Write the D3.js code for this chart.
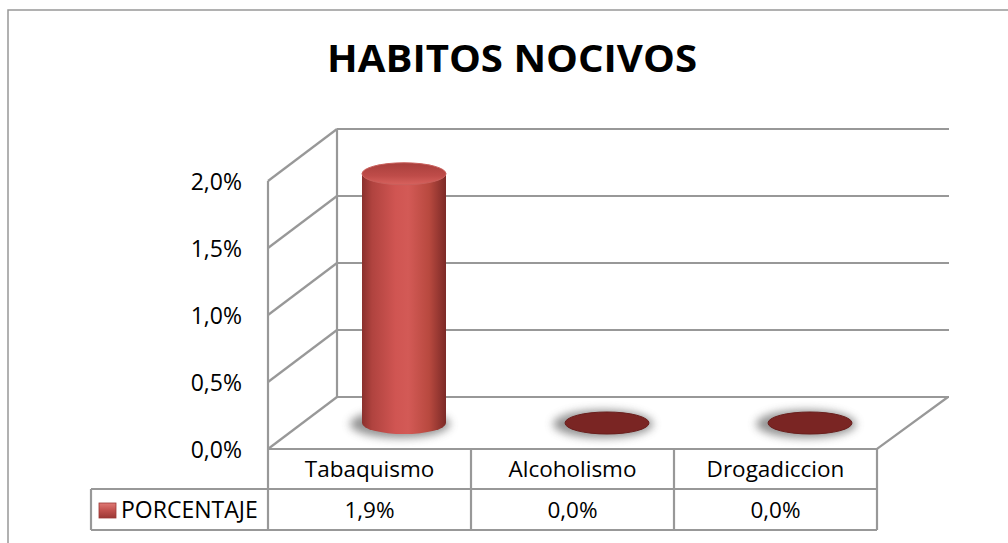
<!DOCTYPE html>
<html>
<head>
<meta charset="utf-8">
<script src="https://cdn.jsdelivr.net/npm/d3@7"></script>
<style>
  body { margin: 0; background: #fff; }
  text { font-family: "Open Sans", "Noto Sans", sans-serif; fill: #000; }
</style>
</head>
<body>
<div id="chart"></div>
<script>
// data
var categories = ['Tabaquismo', 'Alcoholismo', 'Drogadiccion'];
var values = [0.0186, 0, 0];
var yTicks = [0, 0.005, 0.01, 0.015, 0.02];
var seriesName = 'PORCENTAJE';
var chartTitle = 'HABITOS NOCIVOS';

function drawChart() {
    var width = 1008, height = 543;
    var depth = { dx: 69, dy: -52 };     // 3d offset of the back wall
    var lineCol = '#989898';

    var esLocale = d3.formatLocale({ decimal: ',', thousands: '.', grouping: [3], currency: ['', '€'] });
    var pct = esLocale.format('.1%');

    var svg = d3.select('#chart').append('svg')
        .attr('width', width)
        .attr('height', height);

    var defs = svg.append('defs');

    var body = defs.append('linearGradient').attr('id', 'cylBody')
        .attr('x1', '0%').attr('x2', '100%').attr('y1', '0%').attr('y2', '0%');
    [['0%', '#8a302d'], ['12%', '#b0433f'], ['40%', '#d05552'], ['55%', '#d35a56'],
     ['80%', '#b8493f'], ['100%', '#7c2a27']].forEach(function (s) {
        body.append('stop').attr('offset', s[0]).attr('stop-color', s[1]);
    });

    var top = defs.append('linearGradient').attr('id', 'cylTop')
        .attr('x1', '0%').attr('x2', '0%').attr('y1', '0%').attr('y2', '100%');
    [['0%', '#a83f3c'], ['60%', '#bf4c49'], ['100%', '#d8625e']].forEach(function (s) {
        top.append('stop').attr('offset', s[0]).attr('stop-color', s[1]);
    });

    var leg = defs.append('linearGradient').attr('id', 'legGrad')
        .attr('x1', '0%').attr('x2', '0%').attr('y1', '0%').attr('y2', '100%');
    [['0%', '#e07a76'], ['50%', '#c0504d'], ['100%', '#9b3835']].forEach(function (s) {
        leg.append('stop').attr('offset', s[0]).attr('stop-color', s[1]);
    });

    defs.append('filter').attr('id', 'blur')
        .attr('x', '-50%').attr('y', '-100%').attr('width', '200%').attr('height', '300%')
        .append('feGaussianBlur').attr('stdDeviation', 4);

    // outer chart border
    svg.append('rect')
        .attr('x', 8).attr('y', 10)
        .attr('width', 1100).attr('height', 600)
        .attr('fill', 'none')
        .attr('stroke', lineCol)
        .attr('stroke-width', 1.5);

    svg.append('text')
        .attr('x', 512)
        .attr('y', 72)
        .attr('text-anchor', 'middle')
        .attr('textLength', 370)
        .attr('lengthAdjust', 'spacingAndGlyphs')
        .style('font-size', '37px')
        .style('font-weight', 'bold')
        .text(chartTitle);

    var x = d3.scaleBand()
        .domain(categories)
        .range([268, 877])
        .paddingInner(0);

    var y = d3.scaleLinear()
        .domain([0, 0.02])
        .range([449, 181]);

    var grid = svg.append('g')
        .attr('fill', 'none')
        .attr('stroke', lineCol)
        .attr('stroke-width', 2.2);

    // back wall lines
    grid.selectAll('.back')
        .data(yTicks)
        .enter().append('line')
        .attr('x1', 268 + depth.dx)
        .attr('x2', 949)
        .attr('y1', d => y(d) + depth.dy)
        .attr('y2', d => y(d) + depth.dy);

    // side wall diagonals
    grid.selectAll('.side')
        .data(yTicks)
        .enter().append('line')
        .attr('x1', 268)
        .attr('x2', 268 + depth.dx)
        .attr('y1', d => y(d))
        .attr('y2', d => y(d) + depth.dy);

    grid.append('line')
        .attr('x1', 268 + depth.dx).attr('x2', 268 + depth.dx)
        .attr('y1', y(0.02) + depth.dy).attr('y2', y(0) + depth.dy);

    // front axis continuing down the table
    grid.append('line')
        .attr('x1', 268).attr('x2', 268)
        .attr('y1', y(0.02)).attr('y2', 530);

    // floor front and right edges
    grid.append('path')
        .attr('d', `M268,${y(0)} L877,${y(0)} L948,${y(0) + depth.dy}`);

    // y tick labels
    svg.append('g').selectAll('text')
        .data(yTicks)
        .enter().append('text')
        .attr('x', 242)
        .attr('y', d => y(d) + 9)
        .attr('text-anchor', 'end')
        .style('font-size', '23px')
        .text(d => pct(d));

    // cylinders
    var rx = 42, ry = 11;
    var bars = svg.append('g').selectAll('g')
        .data(categories)
        .enter().append('g')
        .attr('transform', d => `translate(${x(d) + x.bandwidth() / 2 + depth.dx / 2},${depth.dy / 2})`);

    bars.append('ellipse')
        .attr('cx', -4)
        .attr('cy', y(0) + 1)
        .attr('rx', rx + 8)
        .attr('ry', ry + 3)
        .attr('fill', '#6f6f6f')
        .attr('opacity', 0.75)
        .attr('filter', 'url(#blur)');

    bars.each(function (d, i) {
        var g = d3.select(this);
        var v = values[i];
        var y0 = y(0), y1 = y(v);
        if (v > 0) {
            g.append('path')
                .attr('d', `M${-rx},${y1} L${-rx},${y0} A${rx},${ry} 0 0 0 ${rx},${y0} L${rx},${y1} Z`)
                .attr('fill', 'url(#cylBody)');
            g.append('ellipse')
                .attr('cx', 0).attr('cy', y1)
                .attr('rx', rx).attr('ry', ry)
                .attr('fill', 'url(#cylTop)')
                .attr('stroke', '#c9605c')
                .attr('stroke-width', 1);
        } else {
            g.append('ellipse')
                .attr('cx', 0).attr('cy', y1)
                .attr('rx', rx).attr('ry', ry)
                .attr('fill', '#7a2523')
                .attr('stroke', '#6a1f1d')
                .attr('stroke-width', 1);
        }
    });

    // data table
    var table = svg.append('g')
        .attr('stroke', lineCol)
        .attr('stroke-width', 2.2)
        .attr('fill', 'none');

    table.append('line').attr('x1', 91).attr('x2', 877).attr('y1', 489).attr('y2', 489);
    table.append('line').attr('x1', 91).attr('x2', 877).attr('y1', 530).attr('y2', 530);
    table.append('line').attr('x1', 91).attr('x2', 91).attr('y1', 489).attr('y2', 530);

    table.selectAll('.col')
        .data(categories)
        .enter().append('line')
        .attr('x1', d => x(d) + x.bandwidth())
        .attr('x2', d => x(d) + x.bandwidth())
        .attr('y1', y(0))
        .attr('y2', 530);

    svg.append('g').selectAll('text')
        .data(categories)
        .enter().append('text')
        .attr('x', d => x(d) + x.bandwidth() / 2)
        .attr('y', 477)
        .attr('text-anchor', 'middle')
        .style('font-size', '22.5px')
        .text(d => d);

    svg.append('g').selectAll('text')
        .data(values)
        .enter().append('text')
        .attr('x', (d, i) => x(categories[i]) + x.bandwidth() / 2)
        .attr('y', 518)
        .attr('text-anchor', 'middle')
        .style('font-size', '22.5px')
        .text(d => pct(d));

    // legend key
    svg.append('rect')
        .attr('x', 99).attr('y', 503)
        .attr('width', 17).attr('height', 15)
        .attr('fill', 'url(#legGrad)')
        .attr('stroke', '#9b3835')
        .attr('stroke-width', 0.8);

    svg.append('text')
        .attr('x', 121)
        .attr('y', 518)
        .style('font-size', '23px')
        .text(seriesName);
}

drawChart();
</script>
</body>
</html>
